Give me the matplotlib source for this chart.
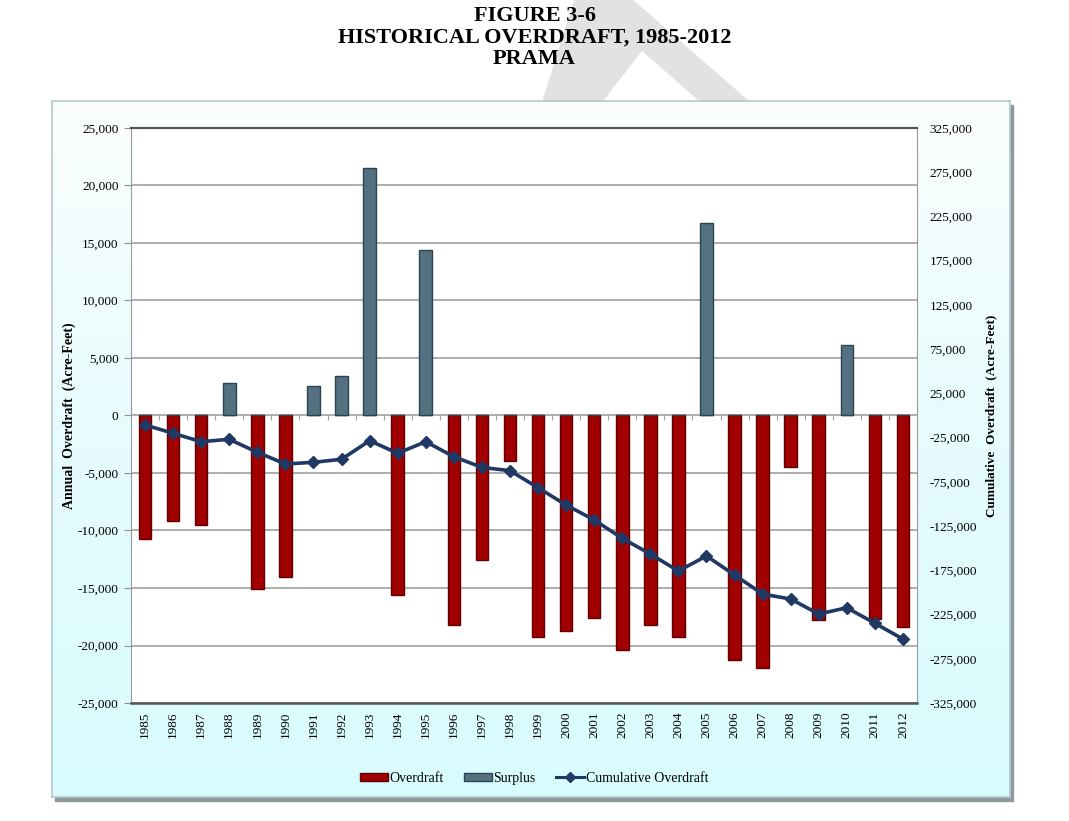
import matplotlib
matplotlib.use('Agg')
import matplotlib.pyplot as plt
import numpy as np
from matplotlib.patches import Rectangle, Polygon, Patch
from matplotlib.lines import Line2D
from matplotlib.colors import LinearSegmentedColormap
from matplotlib.ticker import FuncFormatter

# data (acre-feet)
years = list(range(1985, 2013))
annual = [-10700, -9200, -9500, 2800, -15100, -14000, 2600, 3400, 21500, -15650,
          14400, -18250, -12550, -3950, -19300, -18700, -17600, -20350, -18250, -19300,
          16700, -21300, -21950, -4500, -17800, 6100, -17700, -18350]
cumulative = [-10700, -20100, -29600, -26900, -41600, -54800, -52900, -49500, -28500, -42700,
              -29600, -46600, -58600, -62400, -81600, -101200, -118100, -138800, -156600, -175800,
              -158800, -180300, -201800, -207500, -224400, -217300, -234900, -252700]

left_ticks = list(range(-25000, 25001, 5000))
right_ticks = list(range(-325000, 325001, 50000))

plt.rcParams['font.family'] = ['Liberation Serif', 'DejaVu Serif']
plt.rcParams['axes.unicode_minus'] = False

W, H = 1069, 821
def fx(px):
    return px / W
def fy(py):
    return 1 - py / H

fig = plt.figure(figsize=(W / 100, H / 100), dpi=100)

# faint watermark behind the title
wm = [(575, 0), (632, 0), (748, 101), (700, 101), (642, 50), (602, 101), (543, 101)]
fig.patches.append(Polygon([(fx(x), fy(y)) for x, y in wm], closed=True,
                           transform=fig.transFigure, color='#e2e2e2', zorder=-2))

# chart panel with shadow and gradient
fig.patches.append(Rectangle((fx(55), fy(801)), fx(1010) - fx(52), fy(101) - fy(797),
                             transform=fig.transFigure, color='#8f9a9d', zorder=-1))
bg = fig.add_axes([fx(52), fy(797), fx(1010) - fx(52), fy(101) - fy(797)])
grad = np.linspace(0, 1, 256).reshape(-1, 1)
cmap = LinearSegmentedColormap.from_list('panel', ['#fbfefe', '#e6fcfd', '#d8fbfd'])
bg.imshow(grad, aspect='auto', cmap=cmap, extent=[0, 1, 0, 1])
bg.set_xticks([])
bg.set_yticks([])
for s in bg.spines.values():
    s.set_color('#b3c8cf')
    s.set_linewidth(1.2)

# titles
title_lines = ['FIGURE 3-6', 'HISTORICAL OVERDRAFT, 1985-2012', 'PRAMA']
for i, t in enumerate(title_lines):
    fig.text(0.5, fy(16 + 21.5 * i), t, ha='center', va='center', fontsize=16,
             fontweight='bold', color='black')

ax = fig.add_axes([fx(131), fy(703), fx(917) - fx(131), fy(128) - fy(703)])
ax.set_facecolor('white')
x = np.arange(len(years))
annual_arr = np.array(annual)
over = np.where(annual_arr < 0, annual_arr, 0)
surp = np.where(annual_arr > 0, annual_arr, 0)
ax.bar(x, over, width=0.45, color='#a10000', edgecolor='#5e0000', linewidth=1, zorder=3)
ax.bar(x, surp, width=0.45, color='#547181', edgecolor='#2c4350', linewidth=1, zorder=3)

ax.set_xlim(-0.5, len(years) - 0.5)
ax.set_ylim(-25000, 25000)
ax.set_yticks(left_ticks)
ax.yaxis.set_major_formatter(FuncFormatter(lambda v, p: f'{int(v):,}'))
ax.set_xticks(x)
ax.set_xticklabels([str(y) for y in years], rotation=90, fontsize=9.5)
ax.tick_params(axis='x', length=0, pad=6)
ax.tick_params(axis='y', labelsize=9.5, length=5, color='#909090', pad=4)
ax.grid(axis='y', color='#adadad', linewidth=1.4, zorder=0)
ax.set_axisbelow(True)
# category separators on the zero line
ax.vlines(x[:-1] + 0.5, -350, 0, color='#a0a0a0', linewidth=0.8, zorder=2)
ax.spines['top'].set_color('#555555')
ax.spines['top'].set_linewidth(1.6)
ax.spines['bottom'].set_color('#555555')
ax.spines['bottom'].set_linewidth(1.8)
ax.spines['left'].set_color('#9a9a9a')
ax.spines['right'].set_color('#9a9a9a')
ax.set_ylabel('Annual  Overdraft  (Acre-Feet)', fontsize=10, fontweight='bold', labelpad=1)

ax2 = ax.twinx()
ax2.plot(x, cumulative, color='#1f3864', linewidth=2.6, marker='D', markersize=6, zorder=4)
ax2.set_ylim(-325000, 325000)
ax2.set_yticks(right_ticks)
ax2.yaxis.set_major_formatter(FuncFormatter(lambda v, p: f'{int(v):,}'))
ax2.tick_params(axis='y', labelsize=9.5, length=0, pad=9)
for s in ax2.spines.values():
    s.set_visible(False)
ax2.set_ylabel('Cumulative  Overdraft  (Acre-Feet)', fontsize=9.5, fontweight='bold', labelpad=6)

handles = [Patch(facecolor='#a10000', edgecolor='#5e0000'),
           Patch(facecolor='#547181', edgecolor='#2c4350'),
           Line2D([0], [0], color='#1f3864', linewidth=2.2, marker='D', markersize=5)]
fig.legend(handles, ['Overdraft', 'Surplus', 'Cumulative Overdraft'], loc='center',
           bbox_to_anchor=(fx(534), fy(778)), ncol=3, frameon=False, fontsize=10,
           handlelength=2.0, handleheight=0.5, handletextpad=0.1, columnspacing=1.5)

fig.savefig('out.png', dpi=100)
